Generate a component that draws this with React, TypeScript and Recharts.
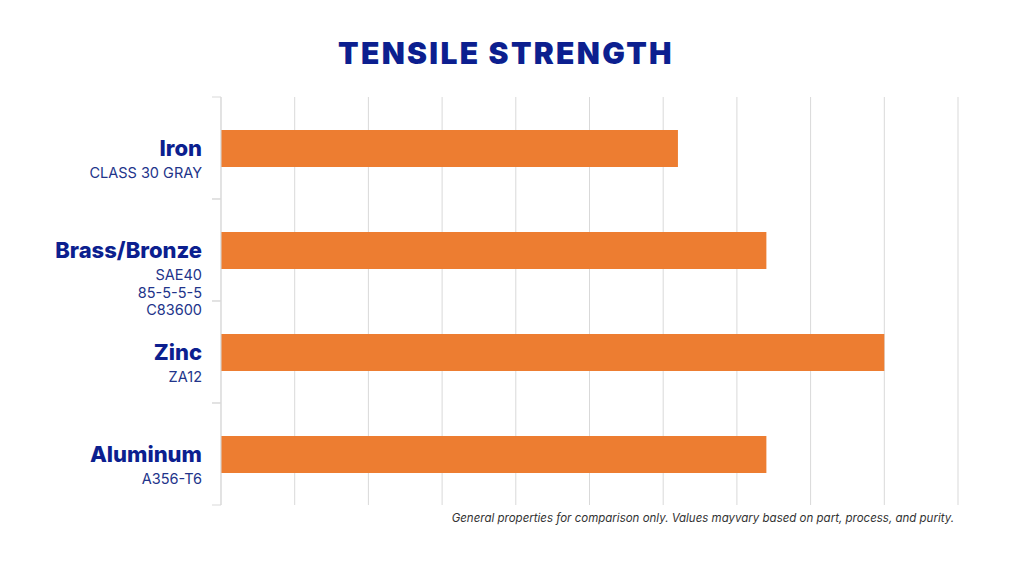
import { BarChart, Bar, XAxis, YAxis, CartesianGrid } from "recharts"

const materials = ["Iron", "Brass/Bronze", "Zinc", "Aluminum"]
const grades = [["CLASS 30 GRAY"], ["SAE40", "85-5-5-5", "C83600"], ["ZA12"], ["A356-T6"]]
const strength = [31, 37, 45, 37]
const xTicks = [0, 5, 10, 15, 20, 25, 30, 35, 40, 45, 50]

const title = "TENSILE STRENGTH"
const footnote = "General properties for comparison only. Values mayvary based on part, process, and purity."

const data = materials.map((m, i) => ({ name: m, grade: grades[i], value: strength[i] }))

const NAVY = "#0c1f8f"
const GRID = "#d9d9d9"

function MaterialTick(props: any) {
    const { x, y, payload, index } = props
    const half = payload && payload.offset ? payload.offset : 51
    const lines = grades[index] || []
    return (
        <g>
            <line x1={x - 9} x2={x} y1={y - half} y2={y - half} stroke={GRID} />
            <line x1={x - 9} x2={x} y1={y + half} y2={y + half} stroke={GRID} />
            <text
                x={x - 19}
                y={y + 8}
                textAnchor="end"
                fill={NAVY}
                style={{ fontFamily: "Inter", fontWeight: 800, fontSize: 22 }}
            >
                {payload.value}
            </text>
            {lines.map((l: string, i: number) => (
                <text
                    key={l}
                    x={x - 19}
                    y={y + 30 + i * 17.5}
                    textAnchor="end"
                    fill="#22348a"
                    style={{ fontFamily: "Inter", fontSize: 14.5 }}
                >
                    {l}
                </text>
            ))}
        </g>
    )
}

const NoTick = () => <g />

export default function App() {
    return (
        <div
            style={{
                position: "absolute",
                left: 0,
                top: 0,
                width: 1024,
                height: 576,
                background: "#fff",
                fontFamily: "Inter",
            }}
        >
            <div
                style={{
                    position: "absolute",
                    top: 35,
                    left: 0,
                    width: 1012,
                    textAlign: "center",
                    fontSize: 30,
                    fontWeight: 900,
                    color: NAVY,
                    letterSpacing: 2.3,
                }}
            >
                {title}
            </div>
            <BarChart
                width={1024}
                height={576}
                data={data}
                layout="vertical"
                margin={{ top: 97, right: 66, bottom: 71, left: 0 }}
                barSize={37}
            >
                <CartesianGrid horizontal={false} stroke={GRID} />
                <XAxis
                    type="number"
                    domain={[0, 50]}
                    ticks={xTicks}
                    interval={0}
                    axisLine={false}
                    tickLine={false}
                    tick={<NoTick />}
                    height={0}
                />
                <YAxis
                    type="category"
                    dataKey="name"
                    width={221}
                    axisLine={{ stroke: GRID }}
                    tickLine={false}
                    tickSize={0}
                    tickMargin={0}
                    tick={<MaterialTick />}
                />
                <Bar dataKey="value" fill="#ed7d31" isAnimationActive={false} />
            </BarChart>
            <div
                style={{
                    position: "absolute",
                    top: 511,
                    right: 70,
                    fontSize: 11.5,
                    fontStyle: "italic",
                    color: "#333",
                    fontFamily: "Inter",
                }}
            >
                {footnote}
            </div>
        </div>
    )
}
